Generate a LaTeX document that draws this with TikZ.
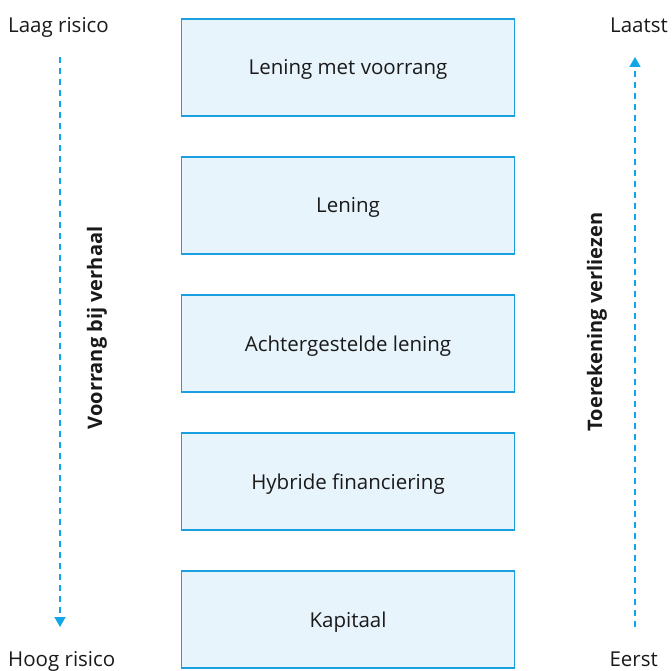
\documentclass[tikz,border=0pt]{standalone}
\usepackage{fontspec}
\setmainfont{Open Sans}
\usetikzlibrary{arrows.meta}
\definecolor{tierfill}{HTML}{E8F4FC}
\definecolor{tierline}{HTML}{1AA0E0}
\definecolor{flowline}{HTML}{12A5E8}
\definecolor{ink}{HTML}{1A1A1A}
\begin{document}
\begin{tikzpicture}[x=1pt,y=-1pt,
  txt/.style={font=\fontsize{20.5}{24}\selectfont, text=ink},
  tier/.style={txt, draw=tierline, fill=tierfill, line width=1.5pt,
    minimum width=333pt, minimum height=97pt, inner sep=0pt,
    text height=15pt, text depth=0pt},
  endlabel/.style={txt, inner sep=0pt},
  sidelabel/.style={font=\fontsize{20}{24}\selectfont\bfseries, text=ink, rotate=90, inner sep=0pt},
  flow/.style={draw=flowline, line width=1.5pt, dash pattern=on 6pt off 5pt,
    -{Triangle[width=11pt,length=10pt]}}
]
\useasboundingbox (0,0) rectangle (672,671);

% tranches, from senior to junior
\node[tier] (t1) at (348,67.5) {Lening met voorrang};
\node[tier] (t2) at (348,205.5) {Lening};
\node[tier] (t3) at (348,343.5) {Achtergestelde lening};
\node[tier] (t4) at (348,481.5) {Hybride financiering};
\node[tier] (t5) at (348,619.5) {Kapitaal};

% end labels
\node[endlabel, anchor=base west] (lowrisk) at (8,33) {Laag risico};
\node[endlabel, anchor=base west] (highrisk) at (8,666) {Hoog risico};
\node[endlabel, anchor=base east] (last) at (668,33) {Laatst};
\node[endlabel, anchor=base east] (first) at (658,666) {Eerst};

% axes
\coordinate (ltop) at (60,57);
\coordinate (lbot) at (60,627);
\coordinate (rtop) at (635,57);
\coordinate (rbot) at (635,627);
\draw[flow] (ltop) -- (lbot);
\draw[flow] (rbot) -- (rtop);

% axis titles
\node[sidelabel] (priority) at (97,328) {Voorrang bij verhaal};
\node[sidelabel] (losses) at (597,322) {Toerekening verliezen};
\end{tikzpicture}
\end{document}
